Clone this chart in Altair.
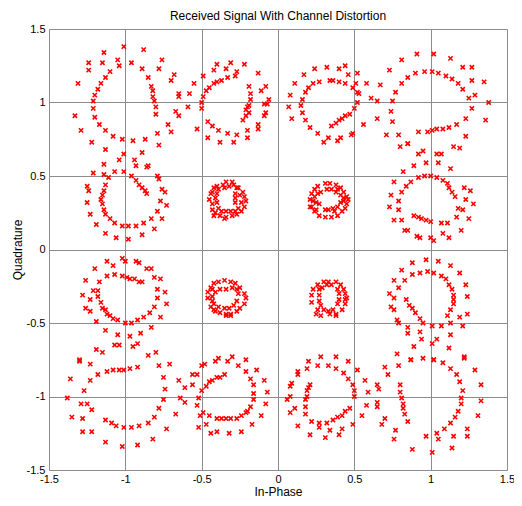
import altair as alt
import pandas as pd

# Received constellation points (In-Phase, Quadrature), by row of clusters
row_top = [
    (-1.01,1.38),(-1.14,1.34),(-1.24,1.27),(-1.15,1.27),(-1.05,1.29),(-1.04,1.25),(-1.24,1.22),(-1.10,1.21),
    (-1.13,1.17),(-1.31,1.13),(-1.16,1.13),(-1.18,1.09),(-1.20,1.05),(-1.21,1.01),(-1.21,0.96),(-1.33,0.91),
    (-1.20,0.90),(-1.17,0.85),(-1.29,0.81),(-1.13,0.81),(-1.08,0.77),(-1.02,0.75),(-1.22,0.73),(-0.95,0.74),
    (-0.87,0.75),(-0.88,1.36),(-0.96,1.27),(-0.89,1.23),(-0.76,1.29),(-0.78,1.23),(-0.85,1.17),(-0.68,1.19),
    (-0.70,1.15),(-0.83,1.11),(-0.82,1.08),(-0.82,1.04),(-0.81,1.01),(-0.80,0.97),(-0.80,0.92),(-0.65,1.06),
    (-0.65,1.04),(-0.67,0.94),(-0.65,0.91),(-0.58,1.06),(-0.59,0.97),(-0.72,0.85),(-0.70,0.80),(-0.79,0.79),
    (-0.55,1.13),(-0.78,0.71),
    (-0.49,1.18),(-0.42,1.22),(-0.40,1.26),(-0.31,1.27),(-0.34,1.23),(-0.22,1.26),(-0.27,1.21),(-0.33,1.17),
    (-0.13,1.20),(-0.37,1.15),(-0.40,1.14),(-0.42,1.13),(-0.45,1.10),(-0.47,1.08),(-0.49,1.04),(-0.50,1.00),
    (-0.50,0.96),(-0.46,0.87),(-0.43,0.84),(-0.39,0.81),(-0.33,0.79),(-0.27,0.78),(-0.20,0.81),(-0.13,0.85),
    (-0.13,0.82),(-0.09,0.91),(-0.08,0.93),(-0.09,0.99),(-0.07,0.99),(-0.06,1.02),(-0.08,1.11),(-0.11,1.08),
    (-0.19,1.11),(-0.18,1.06),(-0.18,1.02),(-0.19,0.98),(-0.20,0.97),(-0.21,0.95),(-0.21,0.91),(-0.23,0.88),
    (-0.19,0.93),(-0.28,1.18),(-0.53,0.82),(-0.46,0.76),(-0.38,0.73),(-0.29,0.73),(-0.20,0.76),
    (0.17,1.19),(0.24,1.23),(0.32,1.24),(0.40,1.23),(0.44,1.25),(0.46,1.19),(0.11,1.13),(0.08,1.05),
    (0.07,0.97),(0.09,0.89),(0.18,0.88),(0.21,0.83),(0.26,0.79),(0.30,0.73),(0.33,0.76),(0.39,0.74),
    (0.41,0.76),(0.48,0.78),(0.49,0.79),(0.18,1.07),(0.20,1.10),(0.23,1.13),(0.27,1.14),(0.34,1.15),
    (0.36,1.15),(0.40,1.14),(0.44,1.13),(0.49,1.10),(0.51,1.13),(0.52,1.20),(0.52,1.07),(0.53,1.06),
    (0.52,1.00),(0.50,0.96),(0.47,0.92),(0.44,0.91),(0.42,0.89),(0.40,0.88),(0.38,0.86),(0.35,0.84),
    (0.16,1.02),(0.15,0.98),(0.16,0.93),(0.56,0.85),(0.58,1.13),(0.61,1.03),(0.65,1.01),(0.67,1.12),
    (0.75,1.01),(0.74,0.94),(0.75,0.87),(0.65,0.89),(0.71,0.78),(0.79,0.78),(0.73,1.22),(0.77,1.07),
    (0.81,1.13),(0.81,1.29),(0.85,0.72),
    (0.85,1.17),(0.90,1.20),(0.96,1.21),(1.01,1.21),(1.05,1.20),(1.10,1.18),(1.14,1.16),(1.18,1.13),
    (1.21,1.09),(1.25,1.03),(1.29,1.05),(1.27,0.96),(1.23,0.89),(1.17,0.85),(1.12,0.83),(1.08,0.82),
    (1.04,0.82),(1.01,0.81),(0.98,0.80),(0.92,0.80),(0.91,1.33),(1.02,1.33),(1.13,1.30),(1.21,1.24),
    (1.27,1.24),(1.27,1.15),(1.35,1.14),(1.38,1.00),(1.36,0.88),(1.23,0.77),
]

row_upper = [
    (-1.13,0.68),(-1.01,0.65),(-1.04,0.61),(-0.89,0.66),(-0.94,0.61),(-1.14,0.58),(-0.93,0.57),(-0.85,0.57),
    (-0.86,0.56),(-1.21,0.52),(-1.14,0.51),(-1.11,0.49),(-1.07,0.53),(-1.01,0.53),(-0.96,0.50),(-0.93,0.47),
    (-0.91,0.44),(-0.89,0.42),(-0.87,0.40),(-0.86,0.38),(-0.79,0.50),(-0.78,0.48),(-0.76,0.41),(-0.74,0.39),
    (-0.77,0.33),(-0.73,0.30),(-0.79,0.26),(-0.76,0.21),(-0.83,0.21),(-0.81,0.14),(-0.88,0.18),(-0.93,0.16),
    (-0.98,0.16),(-1.02,0.16),(-1.07,0.18),(-1.10,0.21),(-1.13,0.24),(-1.14,0.27),(-1.15,0.31),(-1.16,0.34),
    (-1.15,0.37),(-1.14,0.40),(-1.13,0.44),(-1.25,0.43),(-1.24,0.40),(-1.25,0.32),(-1.23,0.24),(-1.19,0.17),
    (-1.13,0.11),(-1.06,0.08),(-0.98,0.07),(-0.89,0.10),
    (-0.34,0.46),(-0.30,0.46),(-0.36,0.44),(-0.40,0.43),(-0.42,0.42),(-0.43,0.39),(-0.44,0.38),(-0.45,0.34),
    (-0.43,0.31),(-0.43,0.27),(-0.41,0.25),(-0.38,0.23),(-0.34,0.22),(-0.30,0.23),(-0.27,0.24),(-0.24,0.26),
    (-0.22,0.29),(-0.21,0.33),(-0.22,0.36),(-0.23,0.39),(-0.26,0.42),(-0.29,0.44),(-0.32,0.43),(-0.35,0.42),
    (-0.39,0.41),(-0.40,0.38),(-0.41,0.35),(-0.40,0.32),(-0.39,0.28),(-0.37,0.26),(-0.34,0.26),(-0.31,0.26),
    (-0.28,0.26),(-0.26,0.28),(-0.28,0.32),(-0.28,0.35),(-0.28,0.38),(-0.27,0.42),(-0.25,0.37),(-0.24,0.32),
    (-0.42,0.23),(-0.35,0.21),
    (0.21,0.34),(0.22,0.38),(0.24,0.41),(0.26,0.43),(0.31,0.45),(0.34,0.45),(0.38,0.44),(0.41,0.42),
    (0.43,0.39),(0.45,0.36),(0.46,0.34),(0.45,0.31),(0.44,0.28),(0.42,0.26),(0.39,0.23),(0.35,0.22),
    (0.31,0.22),(0.27,0.23),(0.24,0.26),(0.22,0.29),(0.24,0.36),(0.26,0.38),(0.28,0.39),(0.32,0.41),
    (0.35,0.41),(0.38,0.39),(0.41,0.37),(0.43,0.35),(0.41,0.32),(0.39,0.29),(0.36,0.28),(0.33,0.27),
    (0.31,0.27),(0.27,0.31),(0.25,0.32),(0.23,0.33),(0.25,0.27),(0.39,0.41),(0.43,0.33),(0.21,0.29),
    (0.37,0.26),
    (0.80,0.70),(0.85,0.72),(0.92,0.65),(0.95,0.67),(1.04,0.65),(1.07,0.65),(1.15,0.70),(1.19,0.69),
    (0.89,0.57),(0.97,0.59),(1.05,0.59),(1.13,0.55),(0.82,0.53),(0.87,0.46),(0.92,0.49),(0.96,0.50),
    (1.00,0.50),(1.04,0.49),(1.08,0.47),(1.11,0.45),(1.12,0.42),(1.14,0.39),(1.16,0.36),(1.18,0.28),
    (1.21,0.27),(1.17,0.22),(0.76,0.46),(0.81,0.39),(0.84,0.43),(0.74,0.37),(0.79,0.33),(0.73,0.29),
    (0.79,0.27),(0.76,0.20),(0.81,0.20),(0.83,0.13),(0.85,0.13),(0.91,0.09),(0.93,0.08),(1.00,0.08),
    (1.02,0.06),(1.08,0.11),(1.12,0.08),(1.20,0.13),(1.25,0.21),(1.28,0.31),(1.23,0.34),(1.26,0.40),
    (1.22,0.42),(1.11,0.18),(1.07,0.18),(1.00,0.19),(0.97,0.20),(0.94,0.21),(0.92,0.22),(0.89,0.23),
]

row_lower = [
    (-1.12,-0.08),(-1.08,-0.11),(-1.02,-0.06),(-1.00,-0.08),(-0.93,-0.08),(-0.91,-0.09),(-0.86,-0.13),(-0.83,-0.13),
    (-1.20,-0.13),(-1.26,-0.21),(-1.17,-0.22),(-1.12,-0.18),(-1.07,-0.17),(-1.02,-0.18),(-0.99,-0.19),(-0.97,-0.20),
    (-0.94,-0.20),(-0.91,-0.22),(-0.89,-0.22),(-0.81,-0.19),(-0.77,-0.20),(-1.21,-0.28),(-1.18,-0.28),(-1.28,-0.31),
    (-1.23,-0.34),(-1.18,-0.32),(-1.16,-0.36),(-1.15,-0.40),(-1.13,-0.41),(-1.12,-0.44),(-1.10,-0.45),(-1.08,-0.47),
    (-1.05,-0.48),(-1.26,-0.40),(-1.23,-0.42),(-1.19,-0.49),(-1.00,-0.50),(-0.96,-0.50),(-0.92,-0.48),(-0.88,-0.46),
    (-0.84,-0.43),(-0.81,-0.39),(-0.79,-0.33),(-0.79,-0.27),(-0.74,-0.29),(-0.73,-0.37),(-0.77,-0.46),(-0.83,-0.53),
    (-0.44,-0.26),(-0.42,-0.23),(-0.39,-0.22),(-0.35,-0.21),(-0.31,-0.22),(-0.28,-0.23),(-0.25,-0.26),(-0.22,-0.30),
    (-0.21,-0.33),(-0.22,-0.37),(-0.25,-0.40),(-0.27,-0.42),(-0.31,-0.44),(-0.34,-0.44),(-0.38,-0.43),(-0.42,-0.41),
    (-0.44,-0.39),(-0.46,-0.33),(-0.46,-0.29),(-0.43,-0.27),(-0.41,-0.29),(-0.38,-0.27),(-0.34,-0.27),(-0.30,-0.26),
    (-0.27,-0.27),(-0.26,-0.30),(-0.27,-0.35),(-0.29,-0.38),(-0.32,-0.40),(-0.35,-0.40),(-0.39,-0.39),(-0.42,-0.37),
    (-0.43,-0.35),(-0.43,-0.32),(-0.41,-0.42),(-0.34,-0.45),(-0.31,-0.45),
    (0.23,-0.27),(0.26,-0.24),(0.30,-0.22),(0.33,-0.22),(0.38,-0.22),(0.41,-0.24),(0.43,-0.27),(0.44,-0.30),
    (0.44,-0.34),(0.44,-0.37),(0.42,-0.41),(0.38,-0.44),(0.34,-0.44),(0.30,-0.41),(0.26,-0.41),(0.25,-0.44),
    (0.22,-0.36),(0.22,-0.31),(0.27,-0.27),(0.27,-0.31),(0.27,-0.35),(0.28,-0.38),(0.39,-0.27),(0.40,-0.30),
    (0.40,-0.34),(0.39,-0.37),(0.36,-0.41),(0.33,-0.42),(0.28,-0.45),(0.38,-0.45),(0.35,-0.24),(0.32,-0.24),
    (0.29,-0.26),(0.45,-0.33),
    (0.88,-0.09),(0.97,-0.07),(1.05,-0.08),(1.13,-0.11),(0.81,-0.14),(0.88,-0.17),(0.93,-0.16),(0.98,-0.15),
    (1.02,-0.16),(1.07,-0.18),(1.10,-0.20),(1.12,-0.24),(1.14,-0.27),(1.15,-0.31),(1.15,-0.34),(1.15,-0.37),
    (1.13,-0.41),(1.11,-0.45),(1.13,-0.50),(1.19,-0.46),(1.21,-0.52),(1.24,-0.44),(1.24,-0.32),(1.23,-0.24),
    (1.19,-0.16),(0.76,-0.21),(0.83,-0.21),(0.79,-0.26),(0.73,-0.30),(0.76,-0.33),(0.74,-0.39),(0.76,-0.41),
    (0.84,-0.34),(0.86,-0.38),(0.88,-0.40),(0.90,-0.43),(0.93,-0.47),(0.95,-0.50),(1.01,-0.52),(1.07,-0.52),
    (0.78,-0.48),(0.79,-0.50),
]

row_bottom = [
    (-1.13,-0.55),(-1.05,-0.58),(-0.97,-0.59),(-0.90,-0.57),(-1.07,-0.65),(-1.04,-0.65),(-0.95,-0.66),(-0.92,-0.64),
    (-1.19,-0.68),(-1.15,-0.70),(-1.30,-0.75),(-0.85,-0.72),(-0.80,-0.70),
    (-1.30,-0.76),(-1.23,-0.78),(-1.36,-0.88),(-1.23,-0.89),(-1.27,-0.96),(-1.38,-1.01),(-1.29,-1.05),(-1.25,-1.05),
    (-1.22,-1.09),(-1.35,-1.14),(-1.28,-1.15),(-1.28,-1.24),(-1.22,-1.24),(-1.13,-1.16),(-1.09,-1.18),(-1.06,-1.20),
    (-1.01,-1.21),(-0.96,-1.21),(-0.91,-1.20),(-0.85,-1.18),(-0.81,-1.14),(-0.78,-1.08),(-1.13,-1.31),(-1.02,-1.34),
    (-0.92,-1.33),(-0.82,-1.29),(-1.18,-0.85),(-1.12,-0.83),(-1.08,-0.82),(-1.04,-0.82),(-1.01,-0.82),(-0.97,-0.81),
    (-0.92,-0.80),(-0.78,-0.79),(-0.71,-0.78),(-0.75,-0.87),(-0.74,-0.95),(-0.75,-1.02),(-0.65,-0.89),(-0.61,-0.94),
    (-0.64,-1.01),(-0.61,-1.04),(-0.67,-1.12),(-0.73,-1.22),
    (-0.56,-0.85),(-0.53,-0.85),(-0.50,-0.79),(-0.48,-0.78),(-0.41,-0.76),(-0.39,-0.74),(-0.33,-0.76),(-0.30,-0.73),
    (-0.26,-0.79),(-0.21,-0.75),(-0.21,-0.83),(-0.14,-0.82),(-0.18,-0.88),(-0.09,-0.89),(-0.16,-0.92),(-0.16,-0.98),
    (-0.07,-0.97),(-0.16,-1.02),(-0.18,-1.07),(-0.08,-1.05),(-0.20,-1.10),(-0.21,-1.11),(-0.24,-1.13),(-0.27,-1.15),
    (-0.31,-1.15),(-0.34,-1.15),(-0.37,-1.15),(-0.40,-1.15),(-0.45,-1.13),(-0.49,-1.11),(-0.51,-1.13),(-0.53,-1.06),
    (-0.52,-1.01),(-0.50,-0.96),(-0.47,-0.93),(-0.45,-0.90),(-0.43,-0.89),(-0.40,-0.87),(-0.38,-0.87),(-0.35,-0.85),
    (-0.56,-0.92),(-0.47,-1.19),(-0.52,-1.21),(-0.44,-1.25),(-0.40,-1.24),(-0.32,-1.25),(-0.24,-1.24),(-0.17,-1.19),
    (-0.11,-1.13),
    (0.20,-0.76),(0.28,-0.73),(0.38,-0.73),(0.46,-0.76),(0.13,-0.83),(0.13,-0.85),(0.19,-0.81),(0.26,-0.79),
    (0.33,-0.79),(0.38,-0.81),(0.43,-0.84),(0.46,-0.88),(0.49,-0.92),(0.50,-0.96),(0.50,-1.00),(0.47,-1.08),
    (0.44,-1.10),(0.42,-1.13),(0.39,-1.14),(0.36,-1.16),(0.32,-1.18),(0.27,-1.18),(0.27,-1.21),(0.22,-1.17),
    (0.18,-1.12),(0.18,-1.07),(0.18,-1.02),(0.19,-1.00),(0.19,-0.96),(0.20,-0.94),(0.21,-0.92),(0.09,-0.91),
    (0.08,-0.93),(0.08,-1.00),(0.06,-1.02),(0.11,-1.08),(0.08,-1.11),(0.13,-1.20),(0.21,-1.26),(0.31,-1.28),
    (0.34,-1.23),(0.40,-1.26),(0.42,-1.22),(0.49,-1.19),
    (0.52,-0.82),(0.57,-0.89),(0.59,-0.97),(0.58,-1.06),(0.55,-1.13),(0.65,-0.92),(0.66,-0.95),(0.65,-1.04),
    (0.65,-1.07),(0.70,-1.15),(0.68,-1.19),(0.70,-0.80),(0.72,-0.85),(0.79,-0.79),(0.80,-0.92),(0.80,-0.97),
    (0.81,-1.01),(0.82,-1.05),(0.82,-1.08),(0.83,-1.12),(0.85,-1.17),(0.77,-1.23),(0.76,-1.29),(0.87,-0.75),
    (0.95,-0.74),(0.88,-1.36),(0.97,-1.27),
    (0.85,-0.53),(0.85,-0.57),(0.93,-0.56),(0.94,-0.61),(1.04,-0.61),(1.01,-0.64),(0.89,-0.66),(1.13,-0.58),
    (1.12,-0.67),(0.78,-0.71),(0.87,-0.75),(1.02,-0.75),(1.22,-0.73),
    (1.02,-0.75),(1.08,-0.77),(1.13,-0.81),(1.17,-0.85),(1.19,-0.90),(1.21,-0.96),(1.20,-1.01),(1.20,-1.05),
    (1.18,-1.10),(1.16,-1.14),(1.13,-1.18),(1.09,-1.22),(1.04,-1.25),(1.05,-1.29),(1.01,-1.38),(1.14,-1.35),
    (1.15,-1.27),(1.24,-1.22),(1.24,-1.27),(1.22,-0.74),(1.29,-0.82),(1.33,-0.92),(1.33,-1.03),(1.31,-1.13),
]

tick_values = [-1.5, -1, -0.5, 0, 0.5, 1, 1.5]

points = row_top + row_upper + row_lower + row_bottom
df = pd.DataFrame(points, columns=["I", "Q"])

x_marker = "M-1,-1L1,1M-1,1L1,-1"
font = "Liberation Sans"

axis_common = dict(
    values=tick_values,
    grid=True,
    gridColor="#8c8c8c",
    gridWidth=1,
    gridOpacity=1,
    ticks=False,
    domain=False,
    labelFont=font,
    labelFontSize=11,
    labelColor="#000000",
    titleFont=font,
    titleFontSize=12,
    titleFontWeight="normal",
    titleColor="#000000",
    labelExpr="'' + datum.value",
)

chart = (
    alt.Chart(df)
    .mark_point(shape=x_marker, filled=False, color="#ff0000", size=18, strokeWidth=1.6, opacity=1)
    .encode(
        x=alt.X(
            "I:Q",
            scale=alt.Scale(domain=[-1.5, 1.5], nice=False, zero=False),
            axis=alt.Axis(
                title="In-Phase",
                labelPadding=3,
                titleY=25,
                titleBaseline="alphabetic",
                labelFlush=False,
                **axis_common,
            ),
        ),
        y=alt.Y(
            "Q:Q",
            scale=alt.Scale(domain=[-1.5, 1.5], nice=False, zero=False),
            axis=alt.Axis(title="Quadrature", labelPadding=4, titlePadding=2, labelFlush=False, **axis_common),
        ),
    )
    .properties(
        width=458,
        height=441,
        title=alt.TitleParams(
            "Received Signal With Channel Distortion",
            font=font,
            fontSize=12,
            fontWeight="normal",
            color="#000000",
            anchor="middle",
            frame="group",
            offset=0,
        ),
        autosize=alt.AutoSizeParams(type="none"),
        padding={"left": 41, "top": 21, "right": 7, "bottom": 28},
    )
    .configure_view(stroke="#000000", strokeWidth=1.5)
    .configure(background="#ffffff")
)

chart.save("out.html", embed_options={"renderer": "svg", "actions": False})
